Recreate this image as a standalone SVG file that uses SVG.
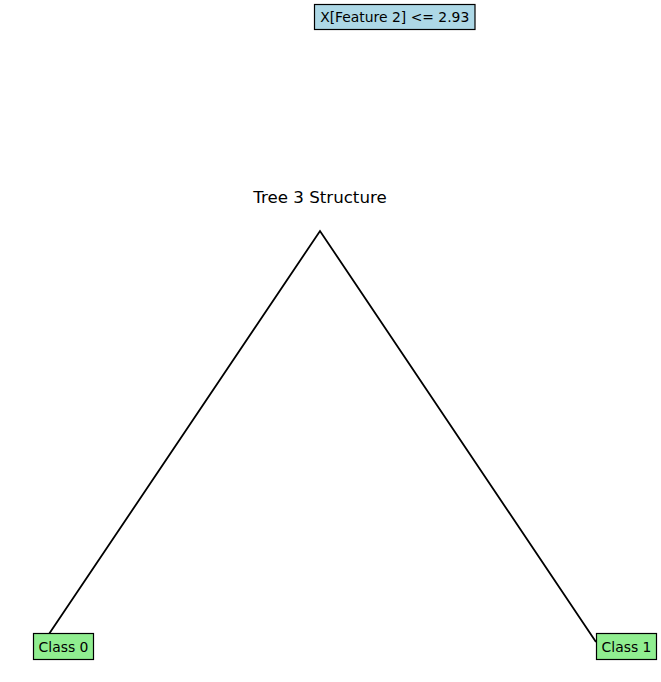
<svg xmlns="http://www.w3.org/2000/svg" width="661" height="682" viewBox="0 0 661 682">
<style>
text { font-family: "DejaVu Sans", sans-serif; fill: #000; }
.lbl { font-size: 13.9px; text-anchor: middle; dominant-baseline: central; }
.box { stroke: #000; stroke-width: 1.2; }
.split { fill: #add8e6; }
.leaf { fill: #90ee90; }
.edge { fill: none; stroke: #000; stroke-width: 1.8; }
</style>
<rect width="661" height="682" fill="#fff"/>
<text x="320" y="197" font-size="16.67" text-anchor="middle" dominant-baseline="central">Tree 3 Structure</text>
<g id="connectors">
<path class="edge" d="M49,634 L320,231 L596,642"/>
</g>
<g id="root">
<rect class="box split" x="314.5" y="4.5" width="160.5" height="25"/>
<text class="lbl" x="394.7" y="17">X[Feature 2] &lt;= 2.93</text>
</g>
<g id="leaf0">
<rect class="box leaf" x="33.5" y="633.5" width="60" height="26"/>
<text class="lbl" x="63.5" y="646.5">Class 0</text>
</g>
<g id="leaf1">
<rect class="box leaf" x="596.5" y="633.5" width="60" height="26"/>
<text class="lbl" x="626.5" y="646.5">Class 1</text>
</g>
</svg>
